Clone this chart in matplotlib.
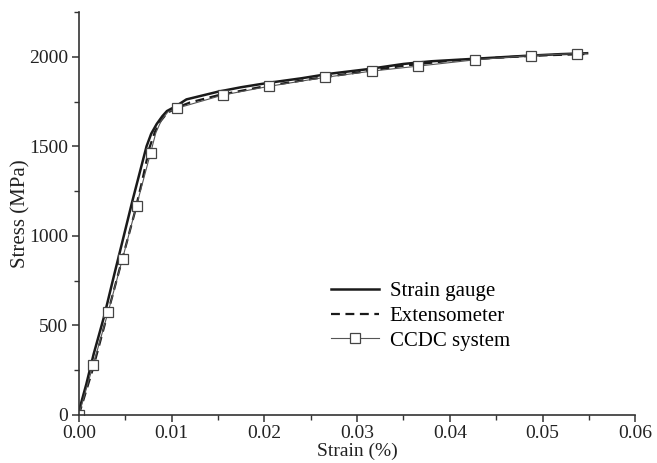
import numpy as np
import matplotlib.pyplot as plt
from matplotlib.ticker import MultipleLocator, FormatStrFormatter

# Strain gauge
sg_strain = [0.0, 0.0008, 0.0016, 0.0027, 0.0038, 0.00485, 0.0058, 0.0066, 0.0073,
             0.0078, 0.0084, 0.0090, 0.0095, 0.0104, 0.0116, 0.0150, 0.0175,
             0.0205, 0.0240, 0.0270, 0.0310, 0.0350, 0.0380, 0.0430, 0.0480,
             0.0520, 0.0548]
sg_stress = [20, 170, 340, 545, 780, 1000, 1200, 1360, 1500,
             1570, 1625, 1668, 1697, 1722, 1762, 1805, 1830,
             1855, 1880, 1905, 1930, 1960, 1975, 1990, 2005,
             2015, 2020]

# Extensometer
ex_strain = [0.0, 0.0015, 0.0030, 0.0045, 0.0060, 0.0068, 0.0076, 0.0082, 0.0088,
             0.0095, 0.0105, 0.0120, 0.0150, 0.0200, 0.0250, 0.0300, 0.0350,
             0.0400, 0.0450, 0.0500, 0.0545]
ex_stress = [0, 255, 545, 835, 1125, 1300, 1490, 1580, 1640,
             1685, 1715, 1745, 1785, 1835, 1875, 1912, 1950,
             1978, 1995, 2008, 2015]

# CCDC system (line points, markers every few points)
cc_strain = [0.0, 0.00154, 0.00316, 0.00471, 0.00622, 0.00773, 0.0083, 0.0089,
             0.0096, 0.01054, 0.0155, 0.0205, 0.0265, 0.0316, 0.0366, 0.0427,
             0.0487, 0.0537, 0.0548]
cc_stress = [0, 278, 575, 872, 1169, 1462, 1575, 1645,
             1692, 1712, 1786, 1835, 1885, 1920, 1948, 1983,
             2007, 2018, 2020]
cc_marks = [0, 1, 2, 3, 4, 5, 9, 10, 11, 12, 13, 14, 15, 16, 17]

plt.rcParams['font.family'] = ['Liberation Serif', 'DejaVu Serif']

fig = plt.figure(figsize=(6.57, 4.63), dpi=100)
ax = fig.add_axes([0.12, 0.104, 0.847, 0.870])

ax.plot(sg_strain, sg_stress, color='#1a1a1a', lw=1.8, label='Strain gauge')
ax.plot(ex_strain, ex_stress, color='#1a1a1a', lw=1.6, ls=(0, (4, 2.5)), label='Extensometer')
ax.plot(cc_strain, cc_stress, color='#555555', lw=0.8, marker='s', ms=7.5,
        mfc='white', mec='#444444', mew=0.9, markevery=cc_marks, label='CCDC system')

ax.set_xlim(0, 0.06)
ax.set_ylim(0, 2250)
ax.xaxis.set_major_locator(MultipleLocator(0.01))
ax.xaxis.set_minor_locator(MultipleLocator(0.005))
ax.xaxis.set_major_formatter(FormatStrFormatter('%.2f'))
ax.yaxis.set_major_locator(MultipleLocator(500))
ax.yaxis.set_minor_locator(MultipleLocator(250))

for s in ['top', 'right']:
    ax.spines[s].set_visible(False)
for s in ['left', 'bottom']:
    ax.spines[s].set_linewidth(1.2)
    ax.spines[s].set_color('#333333')
ax.tick_params(which='major', direction='out', length=5, width=1.1, colors='#333333',
               labelcolor='#222222', labelsize=14, pad=2.5)
ax.tick_params(which='minor', direction='out', length=3.5, width=1.0, colors='#333333')

ax.set_xlabel('Strain (%)', fontsize=14, labelpad=0.5, color='#222222')
ax.set_ylabel('Stress (MPa)', fontsize=15, labelpad=-1, color='#222222')

ax.legend(loc='center left', bbox_to_anchor=(0.42, 0.245), frameon=False,
          handlelength=2.3, handletextpad=0.5, labelspacing=0.25, fontsize=15)

fig.savefig('out.png', dpi=100)
